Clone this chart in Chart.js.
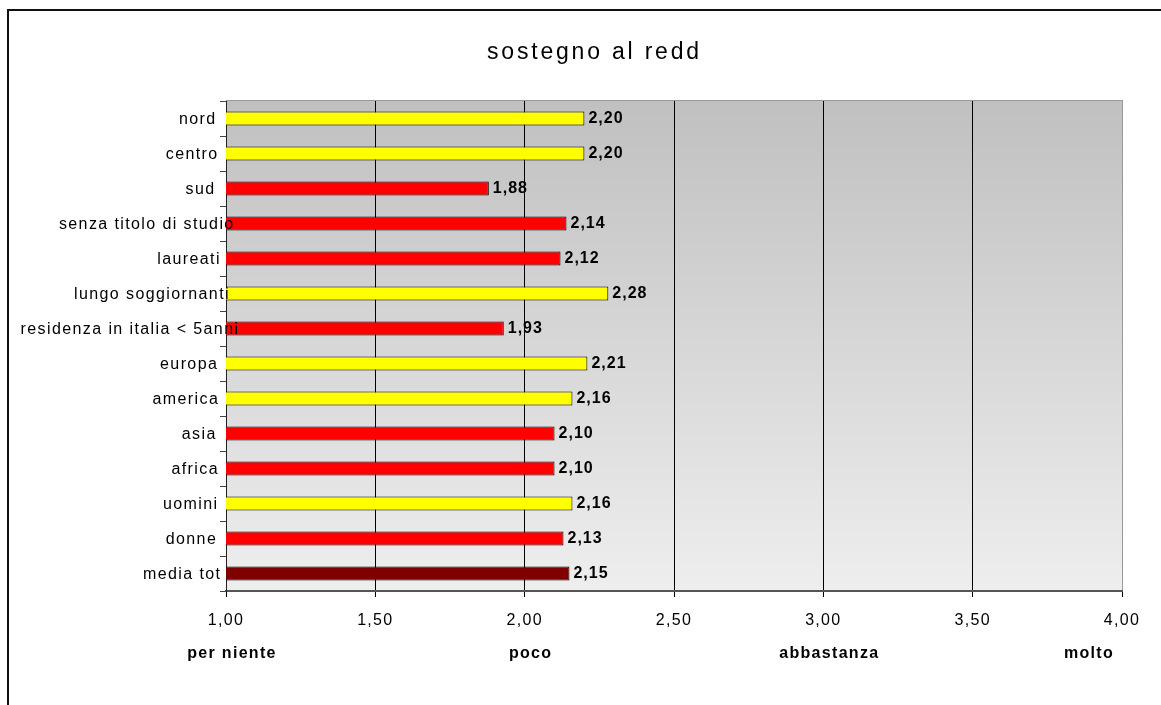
<!DOCTYPE html>
<html>
<head>
<meta charset="utf-8">
<title>sostegno al reddito</title>
<script src="https://cdn.jsdelivr.net/npm/chart.js@4/dist/chart.umd.min.js"></script>
<style>
  html, body { margin: 0; padding: 0; background: #fff; }
  canvas { display: block; }
</style>
</head>
<body>
<canvas id="myChart" width="1161" height="705"></canvas>
<script>
// Average scores per group (1 = per niente ... 4 = molto), last row is the overall mean
const categories = [
  "nord", "centro", "sud", "senza titolo di studio", "laureati",
  "lungo soggiornanti", "residenza in italia < 5anni", "europa", "america",
  "asia", "africa", "uomini", "donne", "media tot",
];
const scores = [2.20, 2.20, 1.88, 2.14, 2.12, 2.28, 1.93, 2.21, 2.16, 2.10, 2.10, 2.16, 2.13, 2.15];

// X axis ticks and the verbal scale written under them
const tickValues = [1, 1.5, 2, 2.5, 3, 3.5, 4];
const scaleNames = ["per niente", "poco", "abbastanza", "molto"];
const scaleNameValues = [1, 2, 3, 4];

const chartTitle = "sostegno al reddito";

const FONT = '"Liberation Sans", Arial, sans-serif';
Chart.defaults.font.family = FONT;
Chart.defaults.font.size = 16;
Chart.defaults.color = "#000";

const meanScore = scores[scores.length - 1];

// yellow above the overall mean, red below it, dark red for the mean itself
function barColor(ctx) {
  const i = ctx.dataIndex;
  if (i === scores.length - 1) return "#800000";
  return scores[i] > meanScore ? "#ffff00" : "#ff0000";
}

function formatNumber(v) {
  return v.toFixed(2).replace(".", ",");
}

// Frame, title and plot background
const backgroundPlugin = {
  id: "background",
  beforeDraw(chart) {
    const { ctx, chartArea } = chart;
    ctx.letterSpacing = "1.3px";

    ctx.save();
    const grad = ctx.createLinearGradient(0, chartArea.top, 0, chartArea.bottom);
    grad.addColorStop(0, "#c0c0c0");
    grad.addColorStop(1, "#eeeeee");
    ctx.fillStyle = grad;
    ctx.fillRect(chartArea.left, chartArea.top, chartArea.right - chartArea.left, chartArea.bottom - chartArea.top);

    // top edge of the plot area
    ctx.fillStyle = "#999999";
    ctx.fillRect(chartArea.left, chartArea.top - 1, chartArea.right - chartArea.left + 1, 1);

    // outer frame (left and top)
    ctx.fillStyle = "#111";
    ctx.fillRect(7, 9, 2, chart.height - 9);
    ctx.fillRect(7, 9, chart.width - 7, 2);

    // title, cut off at the right like the original text box
    ctx.beginPath();
    ctx.rect(0, 0, 698, chartArea.top);
    ctx.clip();
    ctx.font = "23px " + FONT;
    ctx.letterSpacing = "2.8px";
    ctx.fillStyle = "#000";
    ctx.textAlign = "left";
    ctx.textBaseline = "alphabetic";
    ctx.fillText(chartTitle, 487, 59);
    ctx.restore();
  },
};

// Category names, value labels and the verbal scale
const labelsPlugin = {
  id: "labels",
  afterDatasetsDraw(chart) {
    const { ctx, chartArea } = chart;
    const yScale = chart.scales.y;
    const xScale = chart.scales.x;
    const meta = chart.getDatasetMeta(0);

    ctx.save();
    ctx.fillStyle = "#000";
    ctx.textBaseline = "middle";
    ctx.textAlign = "left";

    // category names: laid out right-aligned, drawn a bit wider so long ones run into the plot
    ctx.font = "16px " + FONT;
    categories.forEach((name, i) => {
      ctx.letterSpacing = "0px";
      const w = ctx.measureText(name).width;
      ctx.letterSpacing = "1.4px";
      const y = yScale.getPixelForValue(i);
      ctx.fillText(name, chartArea.left - 13 - w * 1.063, y + 1);
    });

    // values at the end of each bar
    ctx.font = "bold 16px " + FONT;
    ctx.letterSpacing = "1px";
    meta.data.forEach((bar, i) => {
      ctx.fillText(formatNumber(scores[i]), bar.x + 4, bar.y);
    });

    // verbal scale under the numeric ticks
    ctx.letterSpacing = "1.3px";
    scaleNames.forEach((name, i) => {
      const x = xScale.getPixelForValue(scaleNameValues[i]);
      const last = i === scaleNames.length - 1;
      ctx.textAlign = last ? "right" : "center";
      ctx.fillText(name, last ? x - 8 : x + 6, 654);
    });
    ctx.restore();
  },
};

const ctx = document.getElementById("myChart").getContext("2d");
const scoreChart = new Chart(ctx, {
  type: "bar",
  data: {
    labels: categories,
    datasets: [
      {
        label: "sostegno al reddito",
        data: scores,
        backgroundColor: barColor,
        borderColor: "#000",
        borderWidth: 1,
        borderSkipped: false,
        categoryPercentage: 1,
        barPercentage: 0.4,
      },
    ],
  },
  options: {
    indexAxis: "y",
    responsive: false,
    animation: false,
    layout: {
      padding: { top: 101, right: 39, bottom: 0, left: 0 },
    },
    plugins: {
      legend: { display: false },
      title: { display: false },
      tooltip: { enabled: false },
    },
    scales: {
      x: {
        type: "linear",
        min: 1,
        max: 4,
        afterBuildTicks: (scale) => {
          scale.ticks = tickValues.map((v) => ({ value: v }));
        },
        afterFit: (scale) => {
          scale.height = 114;
        },
        ticks: {
          padding: 14,
          maxRotation: 0,
          callback: (v) => formatNumber(v),
        },
        grid: {
          color: (c) => (c.tick && c.tick.value === 4 ? "#999999" : "#000000"),
          tickColor: "#000",
          tickLength: 6,
          lineWidth: 1,
        },
        border: { color: "#555", width: 2 },
      },
      y: {
        type: "category",
        afterFit: (scale) => {
          scale.width = 226;
        },
        ticks: { display: false },
        grid: {
          drawOnChartArea: false,
          tickLength: 6,
          tickColor: "#444",
          offset: true,
        },
        border: { color: "#222", width: 1 },
      },
    },
  },
  plugins: [backgroundPlugin, labelsPlugin],
});
</script>
</body>
</html>
